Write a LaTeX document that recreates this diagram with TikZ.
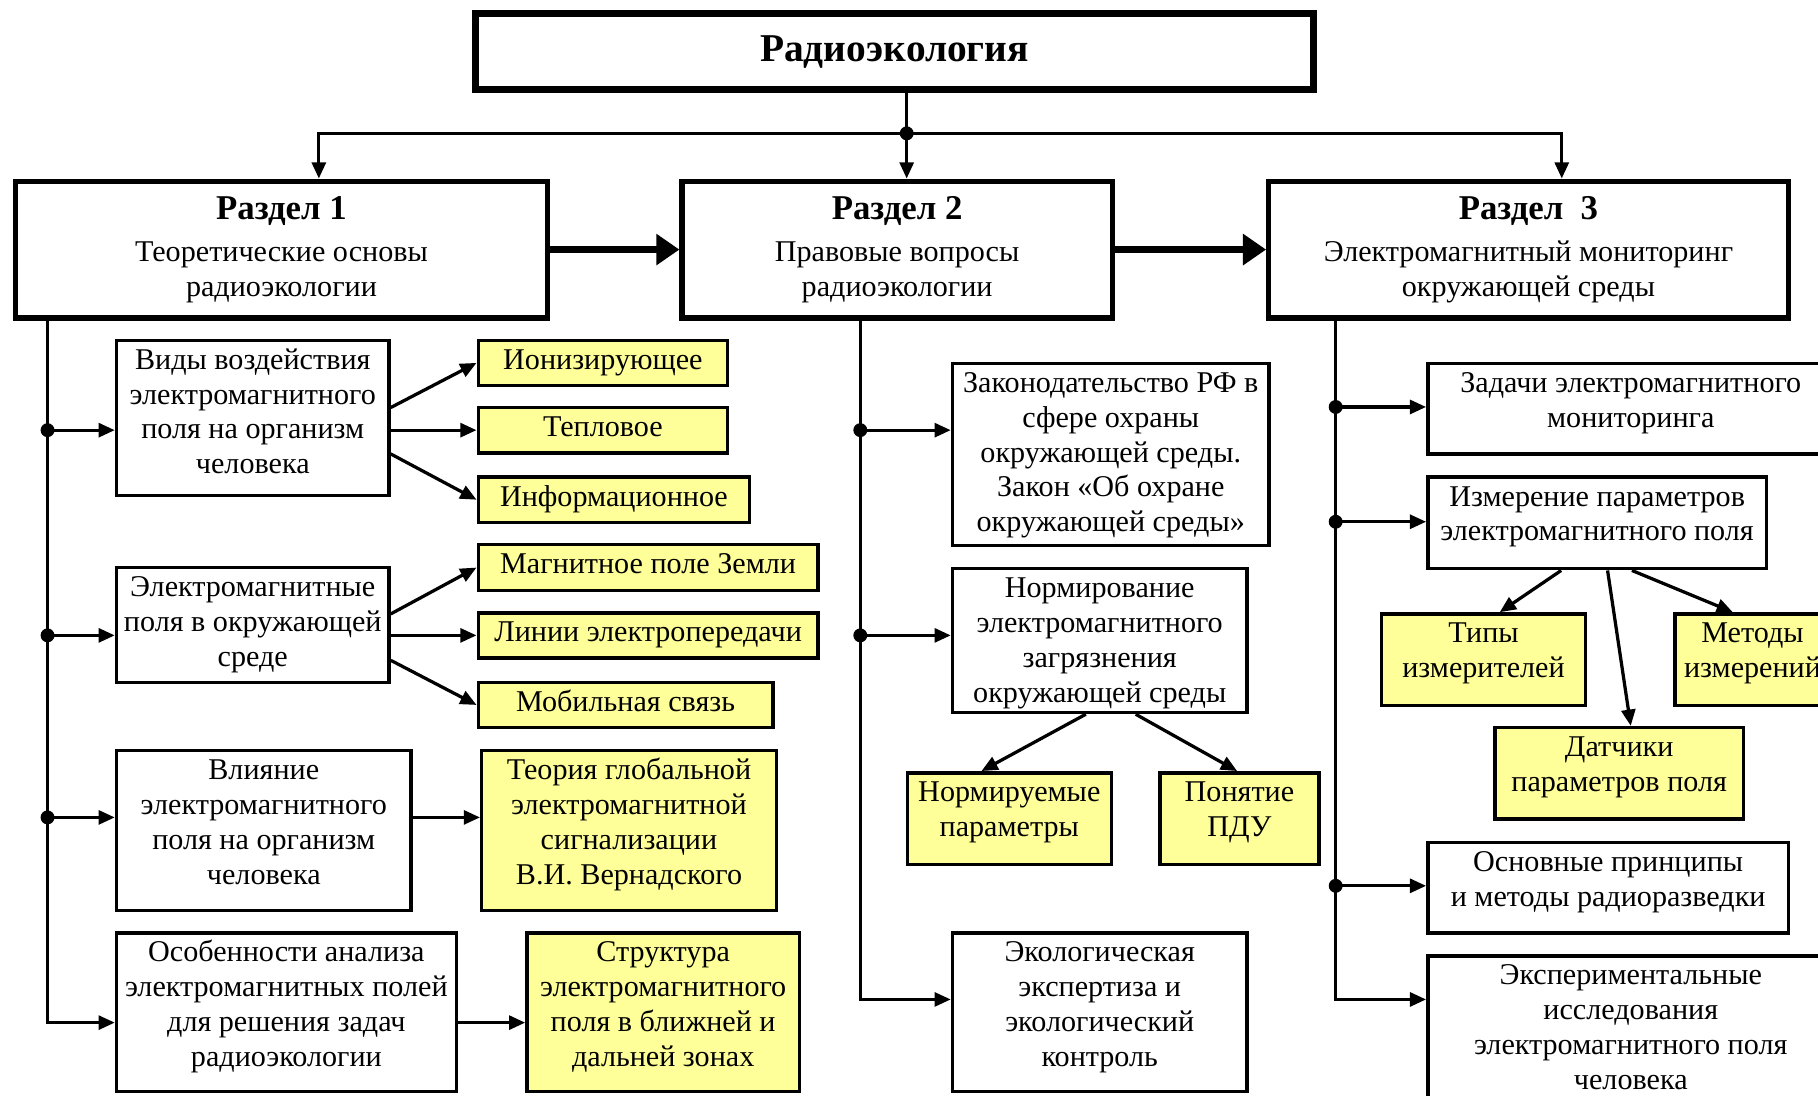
\documentclass[tikz,border=0pt]{standalone}
\usepackage{fontspec}
\setmainfont{Liberation Serif}
\usetikzlibrary{arrows.meta, positioning}
\definecolor{leafyellow}{RGB}{255,255,153}

\begin{document}
\begin{tikzpicture}[x=1pt, y=-1pt, font=\fontsize{26}{30}\selectfont,
        rootbox/.style={rectangle, draw, line width=6pt, inner sep=2pt},
        partbox/.style={rectangle, draw, line width=4.5pt, inner sep=2pt},
        topicbox/.style={rectangle, draw, line width=3pt, fill=white, inner sep=2pt},
        leafbox/.style={rectangle, draw, line width=3pt, fill=leafyellow, inner sep=2pt},
        dims/.style n args={3}{minimum width=#1, minimum height=#2,
            text height={(#3-1)*30pt+23pt}, text depth={#2-(#3-1)*30pt-27pt}},
        link/.style={line width=2.8pt, -{Triangle[length=14pt, width=12pt]}},
        flow/.style={line width=6pt, -{Triangle[length=20pt, width=26pt]}},
    ]
\useasboundingbox (0,0) rectangle (1568,945);
\clip (0,0) rectangle (1568,945);

\node[rootbox, align=center, minimum width=723pt, minimum height=65pt] (Root) at (771.5,44.5) {\fontsize{34}{40}\selectfont\textbf{Радиоэкология}};

\node[partbox, align=center, anchor=north west, minimum width=459pt, minimum height=118pt] (Part1) at (11,154) {{\fontsize{30}{34}\selectfont\textbf{Раздел 1}}\\[6pt]Теоретические основы\\радиоэкологии};
\node[partbox, align=center, anchor=north west, minimum width=371pt, minimum height=118pt] (Part2) at (586,154) {{\fontsize{30}{34}\selectfont\textbf{Раздел 2}}\\[6pt]Правовые вопросы\\радиоэкологии};
\node[partbox, align=center, anchor=north west, minimum width=448pt, minimum height=118pt] (Part3) at (1092,154) {{\fontsize{30}{34}\selectfont\textbf{Раздел~~3}}\\[6pt]Электромагнитный мониторинг\\окружающей среды};

% from the root to the three parts
\coordinate (Hub) at (782,115);
\coordinate (BarL) at (275,115);
\coordinate (BarR) at (1347,115);
\draw[link] (Root.south -| Hub) -- (Hub |- Part2.north);
\draw[link] (Hub) -- (BarL) -- (BarL |- Part1.north);
\draw[link] (Hub) -- (BarR) -- (BarR |- Part3.north);
\fill (Hub) circle[radius=6pt];

\draw[flow] (Part1.east) -- (Part2.west);
\draw[flow] (Part2.east) -- (Part3.west);

% part 1
\node[topicbox, align=center, anchor=north west, dims={235pt}{134pt}{4}] (Kinds) at (99,292) {Виды воздействия\\электромагнитного\\поля на организм\\человека};
\node[topicbox, align=center, anchor=north west, dims={235pt}{99pt}{3}] (Envir) at (99,488) {Электромагнитные\\поля в окружающей\\среде};
\node[topicbox, align=center, anchor=north west, dims={254pt}{138pt}{4}] (Influence) at (99,646) {Влияние\\электромагнитного\\поля на организм\\человека};
\node[topicbox, align=center, anchor=north west, dims={293pt}{137pt}{4}] (Analysis) at (99,803) {Особенности анализа\\электромагнитных полей\\для решения задач\\радиоэкологии};

\node[leafbox, anchor=north west, dims={215pt}{39pt}{1}] (Ionizing) at (411,292) {Ионизирующее};
\node[leafbox, below=16pt of Ionizing, dims={215pt}{39pt}{1}] (Thermal) {Тепловое};
\node[leafbox, anchor=north west, dims={234pt}{39pt}{1}] (Inform) at (411,410) {Информационное};
\node[leafbox, anchor=north west, dims={293pt}{40pt}{1}] (Earth) at (411,468) {Магнитное поле Земли};
\node[leafbox, below=16pt of Earth, dims={293pt}{39pt}{1}] (Lines) {Линии электропередачи};
\node[leafbox, anchor=north west, dims={254pt}{39pt}{1}] (Mobile) at (411,587) {Мобильная связь};
\node[leafbox, align=center, right=58pt of Influence, dims={254pt}{138pt}{4}] (Vernadsky) {Теория глобальной\\электромагнитной\\сигнализации\\В.И. Вернадского};
\node[leafbox, align=center, right=58pt of Analysis, dims={235pt}{137pt}{4}] (Structure) {Структура\\электромагнитного\\поля в ближней и\\дальней зонах};

\coordinate (L1) at (41,371);
\coordinate (L2) at (41,548);
\coordinate (L3) at (41,705);
\coordinate (L4) at (41,882);
\draw[link] (Part1.south -| L1) -- (L4) -- (Analysis.west |- L4);
\draw[link] (L1) -- (Kinds.west |- L1);
\draw[link] (L2) -- (Envir.west |- L2);
\draw[link] (L3) -- (Influence.west |- L3);
\foreach \p in {L1,L2,L3} \fill (\p) circle[radius=6pt];

\draw[link] ([yshift=9pt]Kinds.east) -- (Ionizing.west);
\draw[link] (Kinds.east |- Thermal.west) -- (Thermal.west);
\draw[link] ([yshift=-31pt]Kinds.east) -- (Inform.west);
\draw[link] ([yshift=9.5pt]Envir.east) -- (Earth.west);
\draw[link] (Envir.east |- Lines.west) -- (Lines.west);
\draw[link] ([yshift=-30.5pt]Envir.east) -- (Mobile.west);
\draw[link] (Influence.east |- L3) -- (Vernadsky.west |- L3);
\draw[link] (Analysis.east |- L4) -- (Structure.west |- L4);

% part 2
\node[topicbox, align=center, anchor=north west, dims={273pt}{157pt}{5}] (Law) at (820,312) {Законодательство РФ в\\сфере охраны\\окружающей среды.\\Закон «Об охране\\окружающей среды»};
\node[topicbox, align=center, anchor=north west, dims={254pt}{124pt}{4}] (Norming) at (820,489) {Нормирование\\электромагнитного\\загрязнения\\окружающей среды};
\node[leafbox, align=center, anchor=north west, dims={176pt}{79pt}{2}] (Params) at (781,665) {Нормируемые\\параметры};
\node[leafbox, align=center, right=39pt of Params, dims={137pt}{79pt}{2}] (Pdu) {Понятие\\ПДУ};
\node[topicbox, align=center, anchor=north west, dims={254pt}{137pt}{4}] (Expert) at (820,803) {Экологическая\\экспертиза и\\экологический\\контроль};

\coordinate (M1) at (742,371);
\coordinate (M2) at (742,548);
\coordinate (M3) at (742,862);
\draw[link] (Part2.south -| M1) -- (M3) -- (Expert.west |- M3);
\draw[link] (M1) -- (Law.west |- M1);
\draw[link] (M2) -- (Norming.west |- M2);
\foreach \p in {M1,M2} \fill (\p) circle[radius=6pt];
\draw[link] ([xshift=-12pt]Norming.south) -- ([xshift=-24pt]Params.north);
\draw[link] ([xshift=31pt]Norming.south) -- ([xshift=-2pt]Pdu.north);

% part 3
\node[topicbox, align=center, anchor=north west, dims={350pt}{78pt}{2}] (Tasks) at (1230,312) {Задачи электромагнитного\\мониторинга};
\node[topicbox, align=center, anchor=north west, dims={292pt}{79pt}{2}] (Measure) at (1230,410) {Измерение параметров\\электромагнитного поля};
\node[leafbox, align=center, anchor=north west, dims={176pt}{79pt}{2}] (Meters) at (1190,528) {Типы\\измерителей};
\node[leafbox, align=center, anchor=north west, dims={134pt}{79pt}{2}] (Methods) at (1443,528) {Методы\\измерений};
\node[leafbox, align=center, anchor=north west, dims={214pt}{79pt}{2}] (Sensors) at (1288,626) {Датчики\\параметров поля};
\node[topicbox, align=center, anchor=north west, dims={311pt}{78pt}{2}] (Recon) at (1230,725) {Основные принципы\\и методы радиоразведки};
\node[topicbox, align=center, anchor=north west, dims={350pt}{140pt}{4}] (Experim) at (1230,823) {Экспериментальные\\исследования\\электромагнитного поля\\человека};

\coordinate (R1) at (1152,351);
\coordinate (R2) at (1152,450);
\coordinate (R3) at (1152,764);
\coordinate (R4) at (1152,862);
\draw[link] (Part3.south -| R1) -- (R4) -- (Experim.west |- R4);
\draw[link] (R1) -- (Tasks.west |- R1);
\draw[link] (R2) -- (Measure.west |- R2);
\draw[link] (R3) -- (Recon.west |- R3);
\foreach \p in {R1,R2,R3} \fill (\p) circle[radius=6pt];
\draw[link] ([xshift=-31pt]Measure.south) -- ([xshift=14pt]Meters.north);
\draw[link] ([xshift=9pt]Measure.south) -- ([xshift=10pt]Sensors.north);
\draw[link] ([xshift=30pt]Measure.south) -- ([xshift=-17pt]Methods.north);
\end{tikzpicture}
\end{document}
